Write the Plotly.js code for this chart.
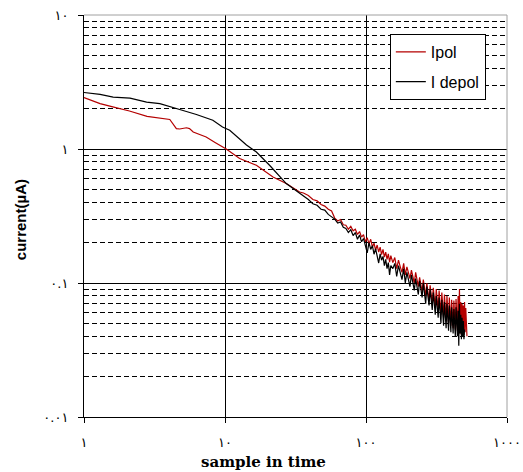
<!DOCTYPE html>
<html>
<head>
<meta charset="utf-8">
<script src="https://cdn.plot.ly/plotly-3.0.1.min.js"></script>
<style>html,body{margin:0;padding:0;background:#fff;}#chart{width:523px;height:472px;}</style>
</head>
<body>
<div id="chart"></div>
<script>
// ---- data ----
var ipolX = [1,1.3,1.6,2.1,2.8,3.4,4.06,4.52,4.77,5.33,5.6,5.95,7.35,8.5,10.2,12.7,16.7,21.9,27.2,33.8,
  36,39,42,45,48,51,54,57,
  60,63,66,69,72,75,78,81,84,87,90,93,96,99,102,105,108,111,114,117,120,123,126,129,132,135,138,141,144,147,150,
  155,160,165,170,175,180,185,190,195,200,205,210,215,220,225,230,235,240,245,250,255,260,265,270,275,280,285,290,295,300,
  305,310,315,320,325,330,335,340,345,350,355,360,365,370,375,380,385,390,395,400,405,410,415,420,425,430,435,440,445,450,
  455,460,465,470,475,480,485,490,495,500,505,510,515,520];
var ipolY = [2.42,2.18,2.06,1.92,1.75,1.70,1.66,1.42,1.41,1.44,1.42,1.34,1.23,1.12,1.0,0.85,0.756,0.618,0.552,0.478,
  0.47,0.45,0.42,0.41,0.385,0.375,0.355,0.345,
  0.305,0.29,0.298,0.272,0.27,0.252,0.265,0.245,0.252,0.23,0.242,0.22,0.23,0.203,0.218,0.196,0.212,0.186,0.198,0.176,0.192,0.17,0.185,0.163,0.178,0.156,0.17,0.15,0.165,0.143,0.16,
  0.142,0.155,0.128,0.148,0.132,0.12,0.14,0.115,0.132,0.12,0.108,0.125,0.112,0.1,0.12,0.104,0.094,0.11,0.098,0.086,0.106,0.092,0.08,0.1,0.086,0.074,0.096,0.082,0.07,0.092,
  0.078,0.066,0.09,0.074,0.062,0.088,0.07,0.058,0.085,0.066,0.055,0.082,0.062,0.052,0.08,0.06,0.05,0.078,0.058,0.048,0.075,0.056,0.046,0.074,0.054,0.045,0.076,0.052,0.044,0.08,
  0.05,0.09,0.042,0.072,0.041,0.07,0.045,0.068,0.041,0.072,0.043,0.065,0.04,0.04];

var idepolX = [1,1.3,1.61,2.12,2.78,3.45,4.77,6.27,8.2,9.6,10.8,14.2,16.7,20.7,27.2,35.6,
  39,42,45,48,51,54,57,
  60,63,66,69,72,75,78,81,84,87,90,93,96,99,102,105,108,111,114,117,120,123,126,129,132,135,138,141,144,147,150,
  155,160,165,170,175,180,185,190,195,200,205,210,215,220,225,230,235,240,245,250,255,260,265,270,275,280,285,290,295,300,
  305,310,315,320,325,330,335,340,345,350,355,360,365,370,375,380,385,390,395,400,405,410,415,420,425,430,435,440,445,450,
  455,460,465,470,475,480,485,490,495,500];
var idepolY = [2.64,2.56,2.44,2.40,2.24,2.18,1.97,1.81,1.64,1.46,1.38,1.07,0.95,0.756,0.552,0.451,
  0.42,0.39,0.38,0.355,0.35,0.325,0.31,
  0.3,0.28,0.285,0.26,0.255,0.238,0.25,0.226,0.238,0.212,0.228,0.203,0.215,0.19,0.168,0.2,0.178,0.19,0.164,0.18,0.158,0.141,0.165,0.148,0.158,0.135,0.15,0.128,0.142,0.115,0.135,
  0.128,0.14,0.112,0.135,0.118,0.106,0.128,0.1,0.12,0.108,0.094,0.115,0.1,0.088,0.108,0.095,0.082,0.104,0.09,0.078,0.1,0.085,0.07,0.094,0.08,0.068,0.09,0.075,0.063,0.085,
  0.07,0.058,0.08,0.066,0.055,0.078,0.06,0.05,0.075,0.058,0.048,0.072,0.055,0.046,0.07,0.052,0.044,0.068,0.05,0.043,0.066,0.048,0.042,0.064,0.047,0.04,0.066,0.045,0.04,0.062,
  0.034,0.07,0.042,0.058,0.038,0.055,0.04,0.052,0.038,0.045];

var xTickVals = [1,10,100,1000];
var xTickText = ['١','١٠','١٠٠','١٠٠٠'];
var yTickVals = [0.01,0.1,1,10];
var yTickText = ['٠.٠١','٠.١','١','١٠'];
var yMinorVals = [0.02,0.03,0.04,0.05,0.06,0.07,0.08,0.09,0.2,0.3,0.4,0.5,0.6,0.7,0.8,0.9,2,3,4,5,6,7,8,9];

var seriesNames = ['Ipol','I depol'];
var seriesColors = ['#b40000','#000000'];

var traces = [
  {x: ipolX, y: ipolY, name: seriesNames[0], type:'scatter', mode:'lines', legendgroup:'a',
   line:{color:seriesColors[0], width:1.2}},
  {x: idepolX, y: idepolY, name: seriesNames[1], type:'scatter', mode:'lines', legendgroup:'b',
   line:{color:seriesColors[1], width:1.2}}
];

var layout = {
  width:523, height:472,
  margin:{l:84, r:16, t:15, b:55},
  paper_bgcolor:'#fff', plot_bgcolor:'#fff',
  showlegend:true,
  font:{family:'Liberation Sans, Arial, sans-serif', color:'#000'},
  xaxis:{type:'log', range:[0,3], tickmode:'array', tickvals:xTickVals, ticktext:xTickText,
    ticks:'outside', ticklen:5, tickcolor:'#000', tickwidth:1,
    showline:true, linecolor:'#000', linewidth:1, mirror:false,
    showgrid:true, gridcolor:'#000', gridwidth:1, zeroline:false,
    ticklabelstandoff:8,
    tickfont:{family:'DejaVu Sans', size:13, color:'#000'}},
  yaxis:{type:'log', range:[-2,1], tickmode:'array', tickvals:yTickVals, ticktext:yTickText,
    ticks:'outside', ticklen:5, tickcolor:'#000', tickwidth:1,
    showline:true, linecolor:'#000', linewidth:1, mirror:false,
    showgrid:true, gridcolor:'#000', gridwidth:1, zeroline:false,
    ticklabelstandoff:7,
    tickfont:{family:'DejaVu Sans', size:13, color:'#000'},
    minor:{tickmode:'array', tickvals:yMinorVals, showgrid:true, gridcolor:'#000', gridwidth:1, griddash:'5px,3px', ticks:''}},
  legend:{x:0.723, y:0.953, xanchor:'left', yanchor:'top', bgcolor:'#fff', bordercolor:'#000', borderwidth:1,
    font:{family:'Liberation Sans, Arial, sans-serif', size:16, color:'#000'}, traceorder:'grouped', tracegroupgap:6},
  shapes:[
    {type:'line', xref:'paper', yref:'paper', x0:0, x1:1, y0:1, y1:1, line:{color:'#a0a0a0', width:1}},
    {type:'line', xref:'paper', yref:'paper', x0:1, x1:1, y0:0, y1:1, line:{color:'#a0a0a0', width:1}}
  ],
  annotations:[
    {text:'<b>current(µA)</b>', xref:'paper', yref:'paper', x:-0.151, y:0.49, textangle:-90, showarrow:false,
     xanchor:'center', yanchor:'middle', font:{family:'Liberation Sans, Arial, sans-serif', size:15, color:'#000'}},
    {text:'<b>sample in time</b>', xref:'paper', yref:'paper', x:0.4255, y:-0.112, showarrow:false,
     xanchor:'center', yanchor:'middle', font:{family:'DejaVu Serif, Liberation Serif, serif', size:15, color:'#000'}}
  ]
};

Plotly.newPlot('chart', traces, layout, {displayModeBar:false, staticPlot:true});
</script>
</body>
</html>
